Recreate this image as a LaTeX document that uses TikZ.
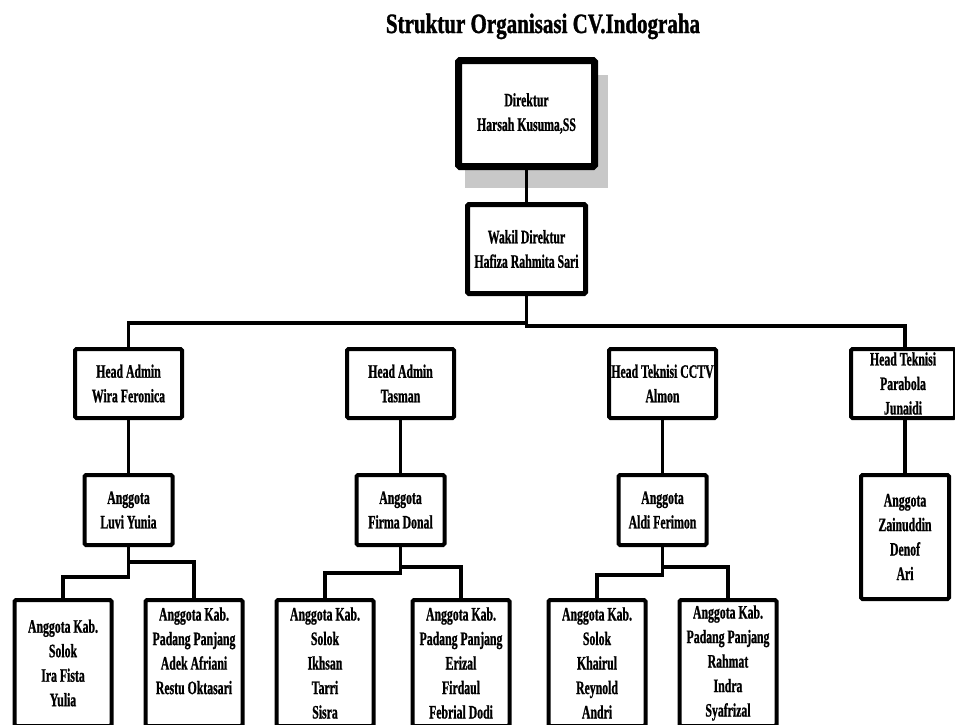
\documentclass[tikz,border=0pt]{standalone}
\usepackage{fontspec}
\setmainfont{Liberation Serif}[FakeStretch=0.62, BoldFeatures={FakeBold=0.9}]
\newfontfamily\titlefont{Liberation Serif}[FakeStretch=0.75, BoldFeatures={FakeBold=1.2}]
\usepackage{tikz}
\usetikzlibrary{positioning, calc, backgrounds}
\definecolor{shadowgray}{HTML}{C8C8C8}
\tikzstyle{orgbox} = [rectangle, rounded corners=1.5pt, draw=black, fill=white, line width=4pt,
  inner sep=0pt, align=center, font=\fontsize{19}{24.5}\selectfont\bfseries]
\tikzstyle{topbox} = [orgbox, line width=7pt, minimum width=136pt, minimum height=106pt]
\tikzstyle{deputybox} = [orgbox, line width=5pt, minimum width=118pt, minimum height=89pt]
\tikzstyle{headbox} = [orgbox, minimum width=107pt, minimum height=69pt]
\tikzstyle{memberbox} = [orgbox, minimum width=88pt, minimum height=70pt]
\tikzstyle{regionbox} = [orgbox, minimum width=97pt, minimum height=126pt]
\tikzstyle{link} = [line width=3.5pt]

\begin{document}
\begin{tikzpicture}[x=1pt, y=-1pt]
  \useasboundingbox (0,0) rectangle (955,724);
  \clip (0,0) rectangle (955,724);
  \node (title) [anchor=base, font=\titlefont\fontsize{28}{32}\selectfont\bfseries] at (543,33) {Struktur Organisasi CV.Indograha};

  \node (dir) [topbox] at (526.5,113.5) {Direktur\\Harsah Kusuma,SS};
  \node (wakil) [deputybox, below=32pt of dir] {Wakil Direktur\\Hafiza Rahmita Sari};
  \begin{scope}[on background layer]
    \fill[shadowgray] ($(dir.north west)+(10,18)$) rectangle ($(dir.south east)+(10,18)$);
  \end{scope}

  \node (wira) [headbox] at (128.5,383.5) {Head Admin\\Wira Feronica};
  \node (tasman) [headbox, right=161pt of wira] {Head Admin\\Tasman};
  \node (cctv) [headbox, right=151pt of tasman] {Head Teknisi CCTV\\Almon};
  \node (parabola) [headbox, minimum width=104pt, right=131pt of cctv] {Head Teknisi\\Parabola\\Junaidi};

  \node (luvi) [memberbox, below=53pt of wira] {Anggota\\Luvi Yunia};
  \node (firma) [memberbox, below=53pt of tasman] {Anggota\\Firma Donal};
  \node (aldi) [memberbox, below=53pt of cctv] {Anggota\\Aldi Ferimon};
  \node (zain) [memberbox, minimum height=124pt, below=53pt of parabola, xshift=2pt] {Anggota\\Zainuddin\\Denof\\Ari};

  \node (solokA) [regionbox, below=51pt of luvi, xshift=-65.5pt] {Anggota Kab.\\Solok\\Ira Fista\\Yulia};
  \node (padangA) [regionbox, below=51pt of luvi, xshift=65.5pt] {Anggota Kab.\\Padang Panjang\\Adek Afriani\\Restu Oktasari\\~};
  \node (solokB) [regionbox, below=51pt of firma, xshift=-75.5pt] {Anggota Kab.\\Solok\\Ikhsan\\Tarri\\Sisra};
  \node (padangB) [regionbox, below=51pt of firma, xshift=60.5pt] {Anggota Kab.\\Padang Panjang\\Erizal\\Firdaul\\Febrial Dodi};
  \node (solokC) [regionbox, below=51pt of aldi, xshift=-65.5pt] {Anggota Kab.\\Solok\\Khairul\\Reynold\\Andri};
  \node (padangC) [regionbox, below=51pt of aldi, xshift=65.5pt] {Anggota Kab.\\Padang Panjang\\Rahmat\\Indra\\Syafrizal};

  \draw[link] (dir) -- (wakil);
  \draw[link] (wakil.south) -- ++(0,27) -| (wira.north);
  \draw[link] (wakil.south) -- ++(0,30) -| ([xshift=2pt]parabola.north);
  \draw[link] (wira) -- (luvi);
  \draw[link] (tasman) -- (firma);
  \draw[link] (cctv) -- (aldi);
  \draw[link] (zain.north |- parabola.south) -- (zain.north);
  \draw[link] (luvi.south) -- ++(0,30) -| (solokA.north);
  \draw[link] (luvi.south) -- ++(0,15) -| (padangA.north);
  \draw[link] (firma.south) -- ++(0,26) -| (solokB.north);
  \draw[link] (firma.south) -- ++(0,20) -| (padangB.north);
  \draw[link] (aldi.south) -- ++(0,28) -| (solokC.north);
  \draw[link] (aldi.south) -- ++(0,20) -| (padangC.north);
\end{tikzpicture}
\end{document}
